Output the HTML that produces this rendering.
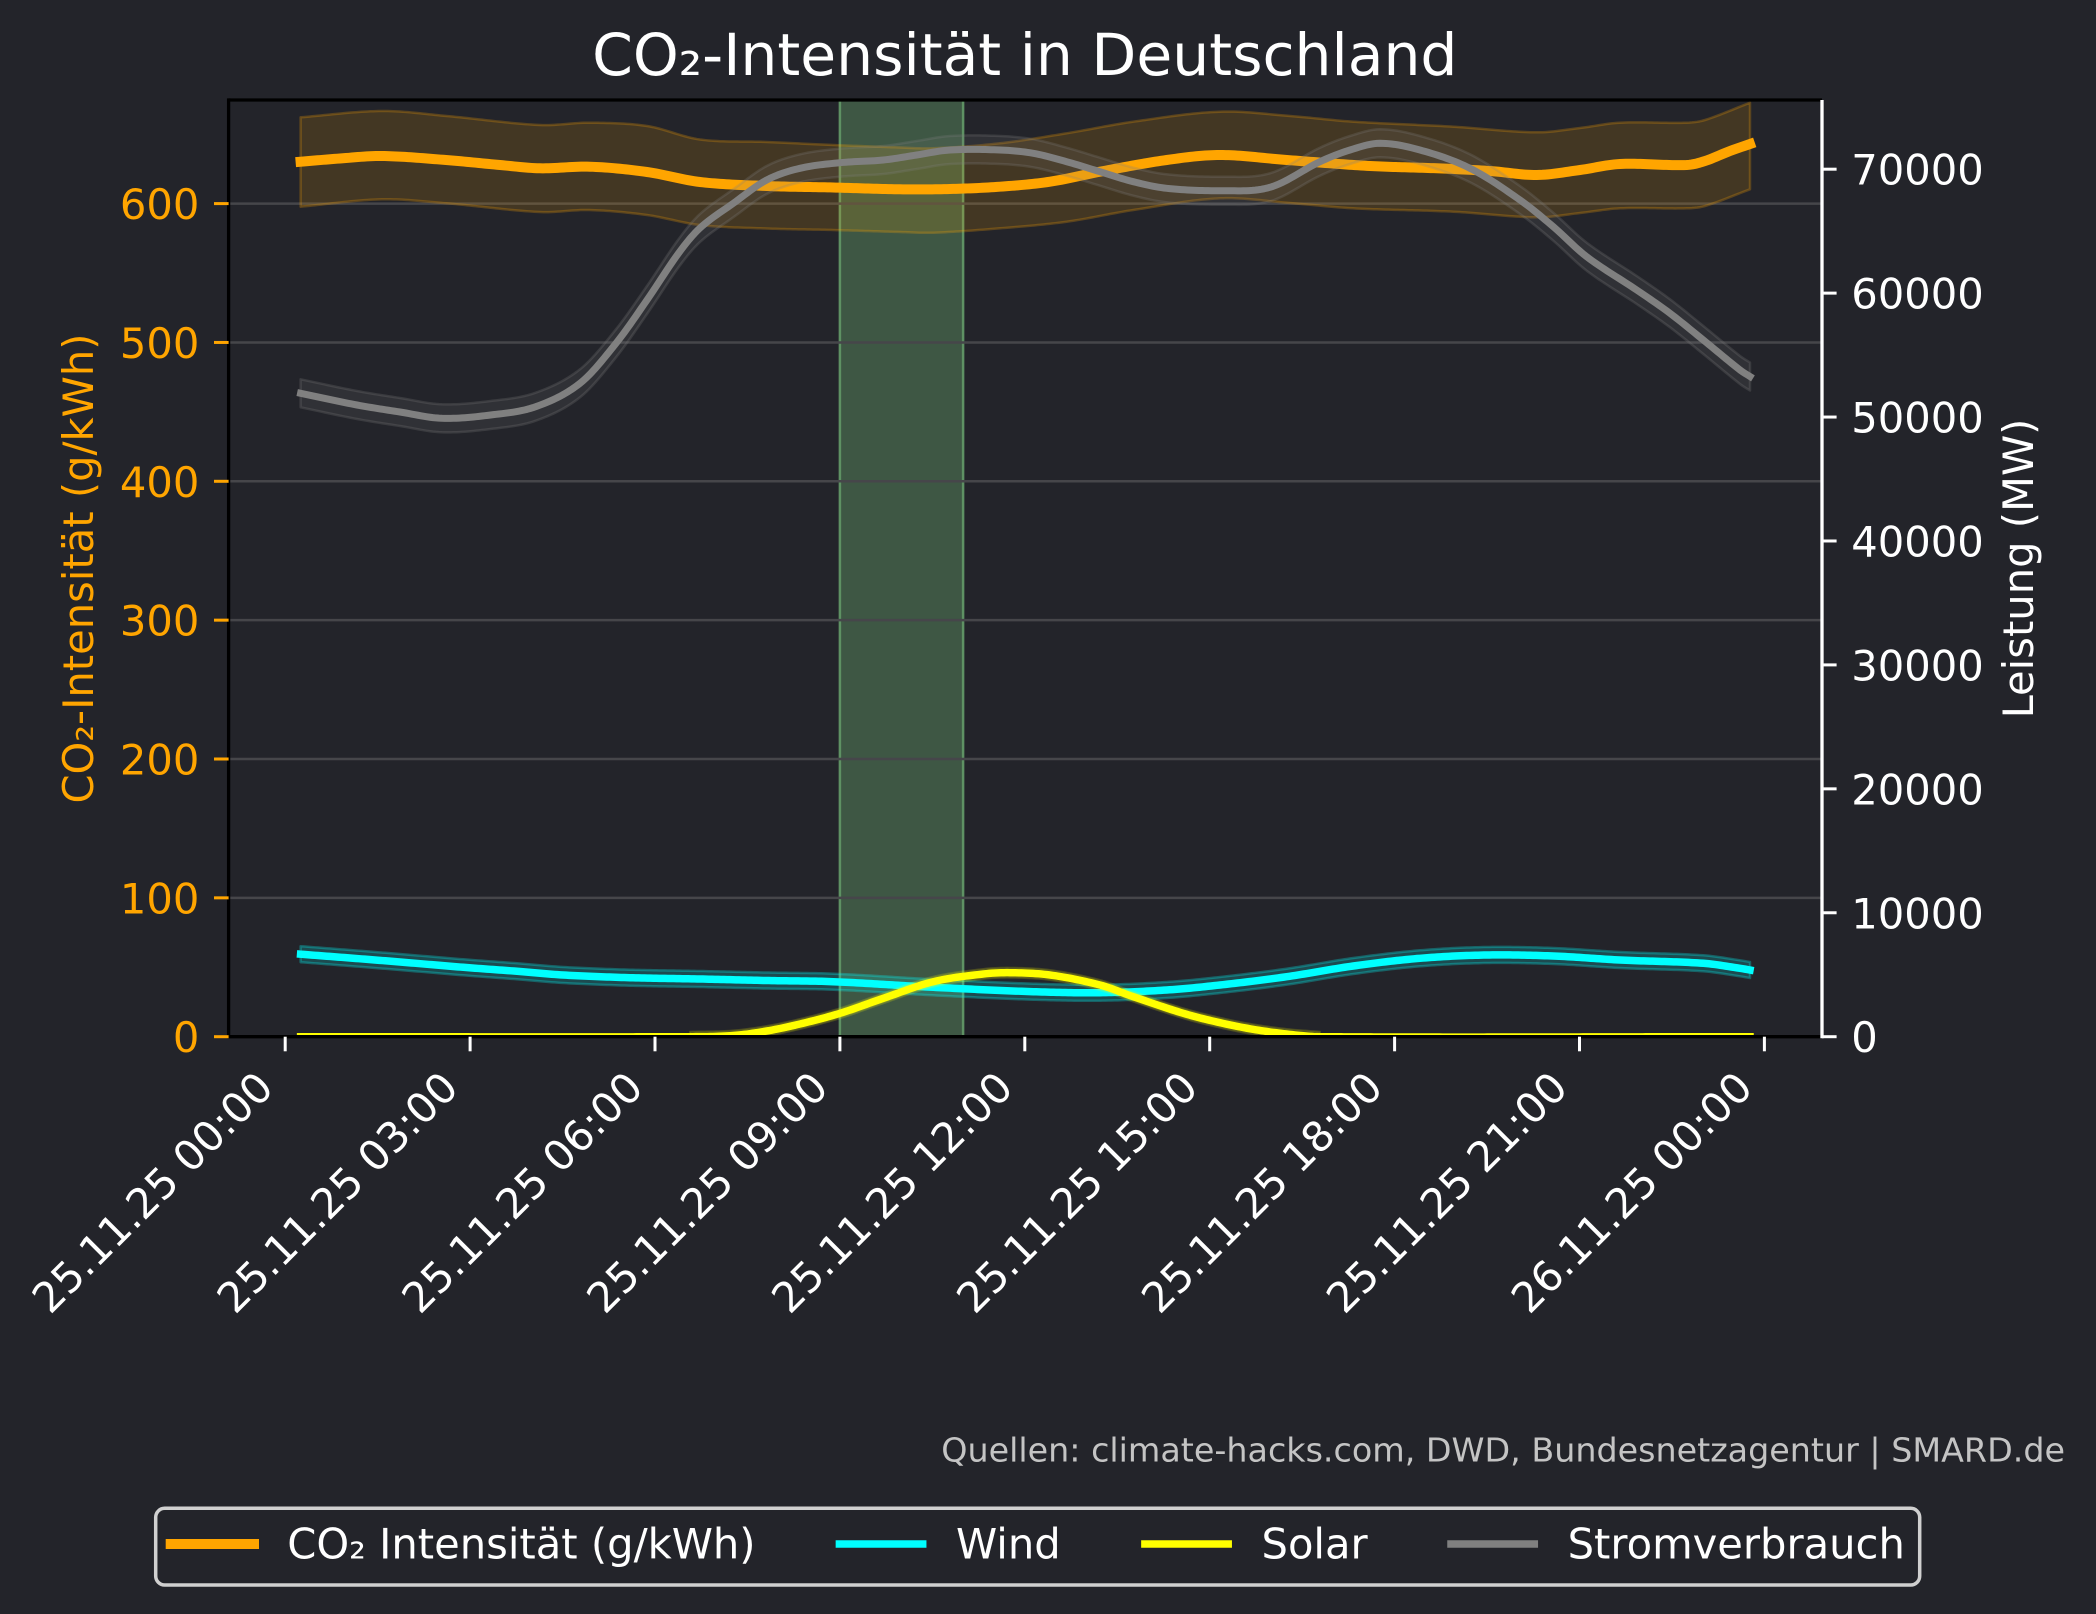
<!DOCTYPE html>
<html>
<head>
<meta charset="utf-8">
<style>
html,body{margin:0;padding:0;background:#23242a;}
svg{display:block;}
text{font-family:"DejaVu Sans","Liberation Sans",sans-serif;}
</style>
</head>
<body>
<svg width="2096" height="1614" viewBox="0 0 2096 1614" xmlns="http://www.w3.org/2000/svg">
<defs>
<clipPath id="ax"><rect x="228.6" y="100" width="1593" height="936.7"/></clipPath>
</defs>
<rect x="0" y="0" width="2096" height="1614" fill="#23242a"/>

<!-- title -->
<text x="1024.8" y="75" font-size="58.33" fill="#ffffff" text-anchor="middle">CO₂-Intensität in Deutschland</text>

<!-- green span 09:00-11:00 -->
<rect x="839.9" y="100" width="123.2" height="936.7" fill="#3e5744"/>
<line x1="839.9" y1="100" x2="839.9" y2="1036.7" stroke="#5e9163" stroke-width="2.5"/>
<line x1="963.1" y1="100" x2="963.1" y2="1036.7" stroke="#5e9163" stroke-width="2.5"/>

<!-- grid -->
<g stroke="#46464a" stroke-width="2.5">
<line x1="228.6" y1="897.85" x2="1821" y2="897.85"/>
<line x1="228.6" y1="759.0" x2="1821" y2="759.0"/>
<line x1="228.6" y1="620.15" x2="1821" y2="620.15"/>
<line x1="228.6" y1="481.3" x2="1821" y2="481.3"/>
<line x1="228.6" y1="342.45" x2="1821" y2="342.45"/>
<line x1="228.6" y1="203.6" x2="1821" y2="203.6"/>
</g>

<g clip-path="url(#ax)">
<!-- CO2 band -->
<polygon class="smb" fill="#ffa500" fill-opacity="0.15" stroke="#ffa500" stroke-opacity="0.25" stroke-width="2.5" stroke-linejoin="round"
points="300.6,117.3 381.7,111 446.5,116 540,125 589.5,122.7 647,126 700,139.5 766.7,142 833.3,145 900,147.5 933.3,148.3 1000,143.3 1066.7,133.3 1133.3,121.7 1220,111.7 1290,116 1353.3,121.7 1453.3,126.7 1536.7,132.3 1580,128 1620,122.7 1686.7,122.7 1705,120 1750,102.7 1750,189.3 1705,206 1686.7,208.3 1620,208.3 1580,213 1536.7,217.3 1453.3,211.7 1353.3,208.3 1290,203 1220,198.3 1133.3,210 1066.7,221.7 1000,228.3 933.3,232.7 900,232 833.3,230 766.7,228.5 700,225 647,215 589.5,210 540,212 446.5,203.3 381.7,199.3 300.6,206.7"/>
<!-- CO2 line -->
<polyline class="sm" fill="none" stroke="#ffa500" stroke-width="10" stroke-linejoin="round" stroke-linecap="square"
points="300.6,161.7 340,158.5 381.7,156 446,160 500,165 540,168.3 590,166.7 647,172 700,182 766.7,186 833.3,187.5 900,189.3 950,189 1000,186.7 1050,181.7 1100,171.7 1166.7,160 1220,155 1286.7,160 1370,166 1436.7,168.3 1490,171 1536.7,175 1580,170 1620,164 1686.7,165 1705,161 1730,151 1750,144"/>

<!-- Wind band + line -->
<polygon class="smb" fill="#00ffff" fill-opacity="0.18" stroke="#00ffff" stroke-opacity="0.28" stroke-width="2.5" stroke-linejoin="round"
points="300.6,946.2 350,950 400,954 463.3,959.3 520,963.5 563.3,967 630,969.7 700,971 766,972.5 833.3,973.7 933.3,979.3 1033.3,983.7 1100,984.7 1166.7,982 1220,977 1286.7,968.7 1353.3,958 1420,950.3 1486.7,947 1553.3,948 1620,952 1703.3,955.3 1740,960.3 1750,962 1750,978 1740,976.3 1703.3,971.3 1620,968 1553.3,964 1486.7,963 1420,966.3 1353.3,974 1286.7,984.7 1220,993 1166.7,998 1100,1000.7 1033.3,999.7 933.3,995.3 833.3,989.7 766,988.5 700,987 630,985.7 563.3,983 520,979.5 463.3,975.3 400,970 350,966 300.6,962.2"/>
<polyline class="sm" fill="none" stroke="#00ffff" stroke-width="7.5" stroke-linejoin="round" stroke-linecap="square"
points="300.6,954.2 350,958 400,962 463.3,967.3 520,971.5 563.3,975 630,977.7 700,979 766,980.5 833.3,981.7 933.3,987.3 1033.3,991.7 1100,992.7 1166.7,990 1220,985 1286.7,976.7 1353.3,966 1420,958.3 1486.7,955 1553.3,956 1620,960 1703.3,963.3 1740,968.3 1750,970"/>

<!-- Solar band + line -->
<polygon class="smb" fill="#ffff00" fill-opacity="0.15" stroke="#ffff00" stroke-opacity="0.18" stroke-width="2" stroke-linejoin="round"
points="690,1031.7 733,1030.5 766.7,1026 800,1019 840,1008.3 883.3,993.3 933.3,976.7 983.3,969 1010,967.7 1050,970 1100,980 1133.3,991.7 1183.3,1008.3 1220,1017.7 1253,1024.3 1286.7,1029 1320,1031.7 1320,1041.7 1286.7,1039 1253,1034.3 1220,1027.7 1183.3,1018.3 1133.3,1001.7 1100,990 1050,980 1010,977.7 983.3,979 933.3,986.7 883.3,1003.3 840,1018.3 800,1029 766.7,1036 733,1040.5 690,1041.7"/>
<polyline class="sm" fill="none" stroke="#ffff00" stroke-width="7.5" stroke-linejoin="round" stroke-linecap="square"
points="300.6,1036.7 690,1036.7 733,1035.5 766.7,1031 800,1024 840,1013.3 883.3,998.3 933.3,981.7 983.3,974 1010,972.7 1050,975 1100,985 1133.3,996.7 1183.3,1013.3 1220,1022.7 1253,1029.3 1286.7,1034 1320,1036.7 1750,1036.7"/>

<!-- Stromverbrauch band + line -->
<polygon class="smb" fill="#808080" fill-opacity="0.15" stroke="#808080" stroke-opacity="0.25" stroke-width="2.5" stroke-linejoin="round"
points="300.6,379.3 357,391 400,398 442,404.3 490.6,401 535.7,392.7 580,369.3 616,329.3 647,286 678.5,239.3 700,214 733.3,189.3 766.7,166 800,154.3 840,148.7 883.3,146 916.7,141 950,136 1000,136 1033.3,139.3 1066.7,147.7 1100,157.7 1133.3,167.7 1166.7,174.3 1220,176.7 1270,173.3 1320,147.7 1350,136 1380,129.3 1420,136 1470,154.3 1520,186 1553.3,212.7 1586.7,242.7 1636.7,276 1670,299.3 1703.3,326 1740,356 1750,362.5 1750,390.5 1740,384 1703.3,354 1670,327.3 1636.7,304 1586.7,270.7 1553.3,240.7 1520,214 1470,182.3 1420,164 1380,157.3 1350,164 1320,175.7 1270,201.3 1220,204.7 1166.7,202.3 1133.3,195.7 1100,185.7 1066.7,175.7 1033.3,167.3 1000,164 950,164 916.7,169 883.3,174 840,176.7 800,182.3 766.7,194 733.3,217.3 700,242 678.5,267.3 647,314 616,357.3 580,397.3 535.7,420.7 490.6,429 442,432.3 400,426 357,419 300.6,407.3"/>
<polyline class="sm" fill="none" stroke="#808080" stroke-width="7" stroke-linejoin="round" stroke-linecap="square"
points="300.6,393.3 357,405 400,412 442,418.3 490.6,415 535.7,406.7 580,383.3 616,343.3 647,300 678.5,253.3 700,228 733.3,203.3 766.7,180 800,168.3 840,162.7 883.3,160 916.7,155 950,150 1000,150 1033.3,153.3 1066.7,161.7 1100,171.7 1133.3,181.7 1166.7,188.3 1220,190.7 1270,187.3 1320,161.7 1350,150 1380,143.3 1420,150 1470,168.3 1520,200 1553.3,226.7 1586.7,256.7 1636.7,290 1670,313.3 1703.3,340 1740,370 1750,376.5"/>
</g>

<!-- spines -->
<line x1="228.6" y1="100" x2="1822" y2="100" stroke="#000000" stroke-width="3.3"/>
<line x1="228.6" y1="1036.7" x2="1822" y2="1036.7" stroke="#000000" stroke-width="3.3"/>
<line x1="228.6" y1="98.4" x2="228.6" y2="1038.3" stroke="#000000" stroke-width="3.3"/>
<line x1="1822" y1="100" x2="1822" y2="1038.3" stroke="#ffffff" stroke-width="3.3"/>

<!-- left ticks -->
<g stroke="#ffa500" stroke-width="3">
<line x1="214" y1="1036.7" x2="228.6" y2="1036.7"/>
<line x1="214" y1="897.85" x2="228.6" y2="897.85"/>
<line x1="214" y1="759.0" x2="228.6" y2="759.0"/>
<line x1="214" y1="620.15" x2="228.6" y2="620.15"/>
<line x1="214" y1="481.3" x2="228.6" y2="481.3"/>
<line x1="214" y1="342.45" x2="228.6" y2="342.45"/>
<line x1="214" y1="203.6" x2="228.6" y2="203.6"/>
</g>
<g fill="#ffa500" font-size="41.67" text-anchor="end">
<text x="199.4" y="1052.2">0</text>
<text x="199.4" y="913.35">100</text>
<text x="199.4" y="774.5">200</text>
<text x="199.4" y="635.65">300</text>
<text x="199.4" y="496.8">400</text>
<text x="199.4" y="357.95">500</text>
<text x="199.4" y="219.1">600</text>
</g>
<text transform="translate(93,568.5) rotate(-90)" font-size="41.67" fill="#ffa500" text-anchor="middle">CO₂-Intensität (g/kWh)</text>

<!-- right ticks -->
<g stroke="#ffffff" stroke-width="3">
<line x1="1822" y1="1036.7" x2="1836.6" y2="1036.7"/>
<line x1="1822" y1="912.77" x2="1836.6" y2="912.77"/>
<line x1="1822" y1="788.84" x2="1836.6" y2="788.84"/>
<line x1="1822" y1="664.9" x2="1836.6" y2="664.9"/>
<line x1="1822" y1="540.98" x2="1836.6" y2="540.98"/>
<line x1="1822" y1="417.05" x2="1836.6" y2="417.05"/>
<line x1="1822" y1="293.12" x2="1836.6" y2="293.12"/>
<line x1="1822" y1="169.19" x2="1836.6" y2="169.19"/>
</g>
<g fill="#ffffff" font-size="41.67" text-anchor="start">
<text x="1851.3" y="1052.2">0</text>
<text x="1851.3" y="928.27">10000</text>
<text x="1851.3" y="804.34">20000</text>
<text x="1851.3" y="680.4">30000</text>
<text x="1851.3" y="556.48">40000</text>
<text x="1851.3" y="432.55">50000</text>
<text x="1851.3" y="308.62">60000</text>
<text x="1851.3" y="184.69">70000</text>
</g>
<text transform="translate(2033,568.5) rotate(-90)" font-size="41.67" fill="#ffffff" text-anchor="middle">Leistung (MW)</text>

<!-- x ticks -->
<g stroke="#ffffff" stroke-width="3">
<line x1="285.2" y1="1036.7" x2="285.2" y2="1051.3"/>
<line x1="470.1" y1="1036.7" x2="470.1" y2="1051.3"/>
<line x1="655.0" y1="1036.7" x2="655.0" y2="1051.3"/>
<line x1="839.9" y1="1036.7" x2="839.9" y2="1051.3"/>
<line x1="1024.8" y1="1036.7" x2="1024.8" y2="1051.3"/>
<line x1="1209.7" y1="1036.7" x2="1209.7" y2="1051.3"/>
<line x1="1394.6" y1="1036.7" x2="1394.6" y2="1051.3"/>
<line x1="1579.5" y1="1036.7" x2="1579.5" y2="1051.3"/>
<line x1="1764.4" y1="1036.7" x2="1764.4" y2="1051.3"/>
</g>
<g fill="#ffffff" font-size="41.67" text-anchor="end">
<text transform="translate(275.5,1090) rotate(-45)">25.11.25 00:00</text>
<text transform="translate(460.4,1090) rotate(-45)">25.11.25 03:00</text>
<text transform="translate(645.3,1090) rotate(-45)">25.11.25 06:00</text>
<text transform="translate(830.2,1090) rotate(-45)">25.11.25 09:00</text>
<text transform="translate(1015.1,1090) rotate(-45)">25.11.25 12:00</text>
<text transform="translate(1200.0,1090) rotate(-45)">25.11.25 15:00</text>
<text transform="translate(1384.9,1090) rotate(-45)">25.11.25 18:00</text>
<text transform="translate(1569.8,1090) rotate(-45)">25.11.25 21:00</text>
<text transform="translate(1754.7,1090) rotate(-45)">26.11.25 00:00</text>
</g>

<!-- source -->
<text x="2065" y="1461.7" font-size="33.33" fill="#c4c4c4" text-anchor="end">Quellen: climate-hacks.com, DWD, Bundesnetzagentur | SMARD.de</text>

<!-- legend -->
<rect x="155.7" y="1508.3" width="1764" height="76.7" rx="9" ry="9" fill="#23242a" stroke="#d0d0d0" stroke-width="3.5"/>
<line x1="170.7" y1="1544" x2="254" y2="1544" stroke="#ffa500" stroke-width="10" stroke-linecap="square"/>
<line x1="839.4" y1="1544" x2="922.7" y2="1544" stroke="#00ffff" stroke-width="7.5" stroke-linecap="square"/>
<line x1="1144.9" y1="1544" x2="1228.2" y2="1544" stroke="#ffff00" stroke-width="7.5" stroke-linecap="square"/>
<line x1="1451" y1="1544" x2="1534.3" y2="1544" stroke="#808080" stroke-width="7.5" stroke-linecap="square"/>
<g fill="#ffffff" font-size="41.67">
<text x="287.3" y="1558.3">CO₂ Intensität (g/kWh)</text>
<text x="956" y="1558.3">Wind</text>
<text x="1261.5" y="1558.3">Solar</text>
<text x="1567.6" y="1558.3">Stromverbrauch</text>
</g>
</svg>
<script>
(function(){
  function parse(s){return s.trim().split(/\s+/).map(function(p){var a=p.split(',');return [parseFloat(a[0]),parseFloat(a[1])];});}
  function interp(pts){
    var n=pts.length, m=[], out=[];
    if(n<3) return pts.slice();
    for(var i=0;i<n;i++){
      if(i===0) m.push((pts[1][1]-pts[0][1])/(pts[1][0]-pts[0][0]));
      else if(i===n-1) m.push((pts[n-1][1]-pts[n-2][1])/(pts[n-1][0]-pts[n-2][0]));
      else m.push((pts[i+1][1]-pts[i-1][1])/(pts[i+1][0]-pts[i-1][0]));
    }
    for(var i=0;i<n-1;i++){
      var x0=pts[i][0],y0=pts[i][1],x1=pts[i+1][0],y1=pts[i+1][1],h=x1-x0;
      var steps=Math.max(2,Math.ceil(h/3));
      for(var s=(i===0?0:1);s<=steps;s++){
        var t=s/steps,t2=t*t,t3=t2*t;
        var y=(2*t3-3*t2+1)*y0+(t3-2*t2+t)*h*m[i]+(-2*t3+3*t2)*y1+(t3-t2)*h*m[i+1];
        out.push([x0+t*h,y]);
      }
    }
    return out;
  }
  function fmt(a){return a.map(function(p){return p[0].toFixed(2)+','+p[1].toFixed(2);}).join(' ');}
  var ls=document.querySelectorAll('polyline.sm');
  for(var k=0;k<ls.length;k++){
    var p=parse(ls[k].getAttribute('points'));
    ls[k].setAttribute('points',fmt(interp(p)));
  }
  var bs=document.querySelectorAll('polygon.smb');
  for(var k=0;k<bs.length;k++){
    var p=parse(bs[k].getAttribute('points'));
    var half=p.length/2;
    var up=p.slice(0,half), lo=p.slice(half).reverse();
    var u=interp(up), l=interp(lo).reverse();
    bs[k].setAttribute('points',fmt(u.concat(l)));
  }
})();
</script>
</body>
</html>
